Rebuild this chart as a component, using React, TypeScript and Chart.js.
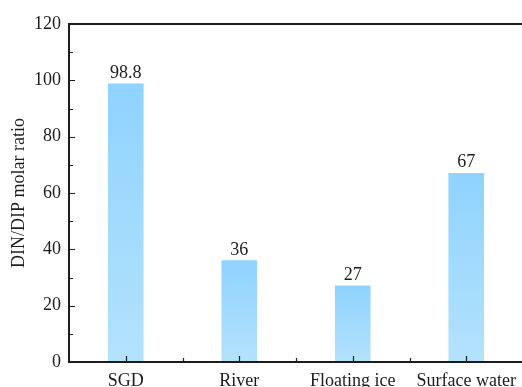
import React, { useEffect, useRef } from "react";
import { Chart, registerables } from "chart.js";

Chart.register(...registerables);

const categories = ["SGD", "River", "Floating ice", "Surface water"];
const ratios = [98.8, 36, 27, 67];
const valueLabels = ["98.8", "36", "27", "67"];
const yTicks = [0, 20, 40, 60, 80, 100, 120];
const yMinorTicks = [10, 30, 50, 70, 90, 110];

const FONT = "'Liberation Serif', 'Times New Roman', serif";
const INK = "#1c1c1c";

// Frame lines, inward tick marks and value labels above each bar.
const framePlugin = {
  id: "frame",
  afterDatasetsDraw(chart: any) {
    const { ctx, chartArea } = chart;
    const x = chart.scales.x;
    const y = chart.scales.y;
    const { left, top, bottom } = chartArea;
    const right = chart.width;
    ctx.save();
    ctx.strokeStyle = INK;
    ctx.lineWidth = 2;
    ctx.beginPath();
    ctx.moveTo(left, top);
    ctx.lineTo(right, top);
    ctx.moveTo(left, top - 1);
    ctx.lineTo(left, bottom + 1);
    ctx.moveTo(left - 1, bottom);
    ctx.lineTo(right, bottom);
    ctx.stroke();

    ctx.lineWidth = 1.2;
    ctx.beginPath();
    yTicks.forEach((v) => {
      const py = Math.round(y.getPixelForValue(v)) + 0.5;
      ctx.moveTo(left, py);
      ctx.lineTo(left + 6, py);
    });
    yMinorTicks.forEach((v) => {
      const py = Math.round(y.getPixelForValue(v)) + 0.5;
      ctx.moveTo(left, py);
      ctx.lineTo(left + 4, py);
    });
    categories.forEach((_, i) => {
      const px = Math.round(x.getPixelForValue(i)) + 0.5;
      ctx.moveTo(px, bottom);
      ctx.lineTo(px, bottom - 6);
      if (i > 0) {
        const mx = Math.round((x.getPixelForValue(i) + x.getPixelForValue(i - 1)) / 2) + 0.5;
        ctx.moveTo(mx, bottom);
        ctx.lineTo(mx, bottom - 4);
      }
    });
    ctx.stroke();

    ctx.fillStyle = INK;
    ctx.font = `18px ${FONT}`;
    ctx.textAlign = "center";
    ctx.textBaseline = "alphabetic";
    const meta = chart.getDatasetMeta(0);
    meta.data.forEach((bar: any, i: number) => {
      ctx.fillText(valueLabels[i], bar.x, bar.y - 6);
    });
    ctx.restore();
  },
};

export default function App() {
  const canvasRef = useRef<HTMLCanvasElement>(null);

  useEffect(() => {
    if (!canvasRef.current) return;
    const chart = new Chart(canvasRef.current, {
      type: "bar",
      data: {
        labels: categories,
        datasets: [
          {
            data: ratios,
            barThickness: 35,
            backgroundColor: (context: any) => {
              const c = context.chart;
              const yScale = c.scales.y;
              if (!yScale || context.parsed == null) return "#a0d9fd";
              const topPx = yScale.getPixelForValue(context.parsed.y);
              const basePx = yScale.getPixelForValue(0);
              if (!isFinite(topPx) || !isFinite(basePx) || topPx === basePx) return "#a0d9fd";
              const g = c.ctx.createLinearGradient(0, topPx, 0, basePx);
              g.addColorStop(0, "#8fd3fe");
              g.addColorStop(1, "#b4e2fc");
              return g;
            },
            borderWidth: 0,
          },
        ],
      },
      options: {
        animation: false,
        responsive: true,
        maintainAspectRatio: false,
        layout: { padding: { top: 24, right: 7, left: 0, bottom: 0 } },
        plugins: {
          legend: { display: false },
          tooltip: { enabled: false },
        },
        scales: {
          x: {
            grid: { display: false, drawTicks: false },
            border: { display: false },
            ticks: {
              color: INK,
              font: { family: FONT, size: 18 },
              padding: 8,
              maxRotation: 0,
              autoSkip: false,
            },
            afterFit: (scale: any) => {
              scale.height = 38;
            },
          },
          y: {
            min: 0,
            max: 120,
            grid: { display: false, drawTicks: false },
            border: { display: false },
            ticks: {
              stepSize: 20,
              color: INK,
              font: { family: FONT, size: 18 },
              padding: 8,
            },
            title: {
              display: true,
              text: "DIN/DIP molar ratio",
              color: INK,
              font: { family: FONT, size: 18 },
              padding: { top: 8, bottom: 0 },
            },
            afterFit: (scale: any) => {
              scale.width = 69;
            },
          },
        },
      },
      plugins: [framePlugin],
    });
    return () => chart.destroy();
  }, []);

  return (
    <div
      style={{
        position: "fixed",
        left: 0,
        top: 0,
        width: 522,
        height: 387,
        overflow: "hidden",
        background: "#ffffff",
      }}
    >
      <div style={{ position: "relative", width: 530, height: 400 }}>
        <canvas ref={canvasRef} />
      </div>
    </div>
  );
}
